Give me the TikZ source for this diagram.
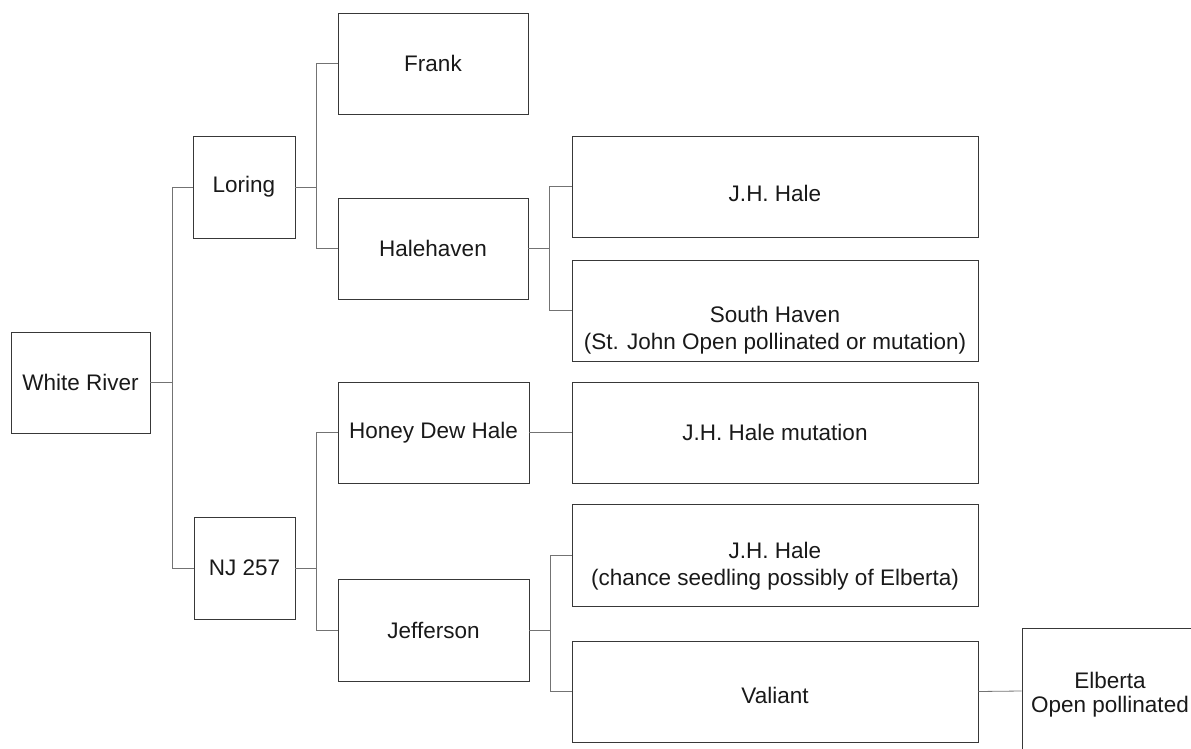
\documentclass[tikz,border=0pt]{standalone}
\usepackage{fontspec}
\setmainfont{Liberation Sans}
\usepackage{tikz}
\definecolor{boxline}{gray}{0.22}
\definecolor{linkline}{gray}{0.45}

\begin{document}
\begin{tikzpicture}[x=1pt, y=-1pt,
    cultivar/.style={draw=boxline, line width=0.9pt, align=center, inner sep=0pt,
      text=black!90, font=\fontsize{22.5}{27}\selectfont},
    link/.style={draw=linkline, line width=0.8pt}]
    \useasboundingbox (0,0) rectangle (1191,749);
    \clip (0,0) rectangle (1191,749);

    % White River and its parents
    \node[cultivar, minimum width=139pt, minimum height=101pt] (wr) at (80.5,382.5) {White River};
    \node[cultivar, minimum width=102pt, minimum height=102pt] (loring) at (244,187) {Loring};
    \node[cultivar, minimum width=101pt, minimum height=102pt] (nj) at (244.5,568) {NJ 257};

    % grandparents
    \node[cultivar, minimum width=190pt, minimum height=101pt] (frank) at (433,63.5) {Frank};
    \node[cultivar, minimum width=190pt, minimum height=101pt] (halehaven) at (433,248.5) {Halehaven};
    \node[cultivar, minimum width=191pt, minimum height=101pt] (honeydew) at (433.5,432.5) {Honey Dew Hale};
    \node[cultivar, minimum width=191pt, minimum height=102pt] (jefferson) at (433.5,630) {Jefferson};

    % great-grandparents
    \node[cultivar, minimum width=406pt, minimum height=101pt, text height=31pt] (jhhale) at (775,186.5) {J.H. Hale};
    \node[cultivar, minimum width=406pt, minimum height=101pt] (southhaven) at (775,310.5)
      {\rule{0pt}{55pt}South Haven\\(St. John Open pollinated or mutation)};
    \node[cultivar, minimum width=406pt, minimum height=101pt] (jhmut) at (775,432.5) {J.H. Hale mutation};
    \node[cultivar, minimum width=406pt, minimum height=102pt] (jhchance) at (775,555)
      {\rule{0pt}{38pt}J.H. Hale\\(chance seedling possibly of Elberta)};
    \node[cultivar, minimum width=406pt, minimum height=101pt, text height=25pt] (valiant) at (775,691.5) {Valiant};
    \node[cultivar, minimum width=176pt, minimum height=126pt, font=\fontsize{22.5}{24}\selectfont] (elberta) at (1110,691)
      {\rule{0pt}{23pt}Elberta\\Open pollinated};

    % connectors
    \draw[link] (wr.east) -- ++(22,0) |- (loring.west);
    \draw[link] (wr.east) -- ++(22,0) |- (nj.west);
    \draw[link] (loring.east) -- ++(21,0) |- (frank.west);
    \draw[link] (loring.east) -- ++(21,0) |- (halehaven.west);
    \draw[link] (halehaven.east) -- ++(21,0) |- (jhhale.west);
    \draw[link] (halehaven.east) -- ++(21,0) |- (southhaven.west);
    \draw[link] (nj.east) -- ++(21,0) |- (honeydew.west);
    \draw[link] (nj.east) -- ++(21,0) |- (jefferson.west);
    \draw[link] (honeydew.east) -- (jhmut.west);
    \draw[link] (jefferson.east) -- ++(21,0) |- (jhchance.west);
    \draw[link] (jefferson.east) -- ++(21,0) |- (valiant.west);
    \draw[link] (valiant.east) -- (elberta.west);
\end{tikzpicture}
\end{document}
